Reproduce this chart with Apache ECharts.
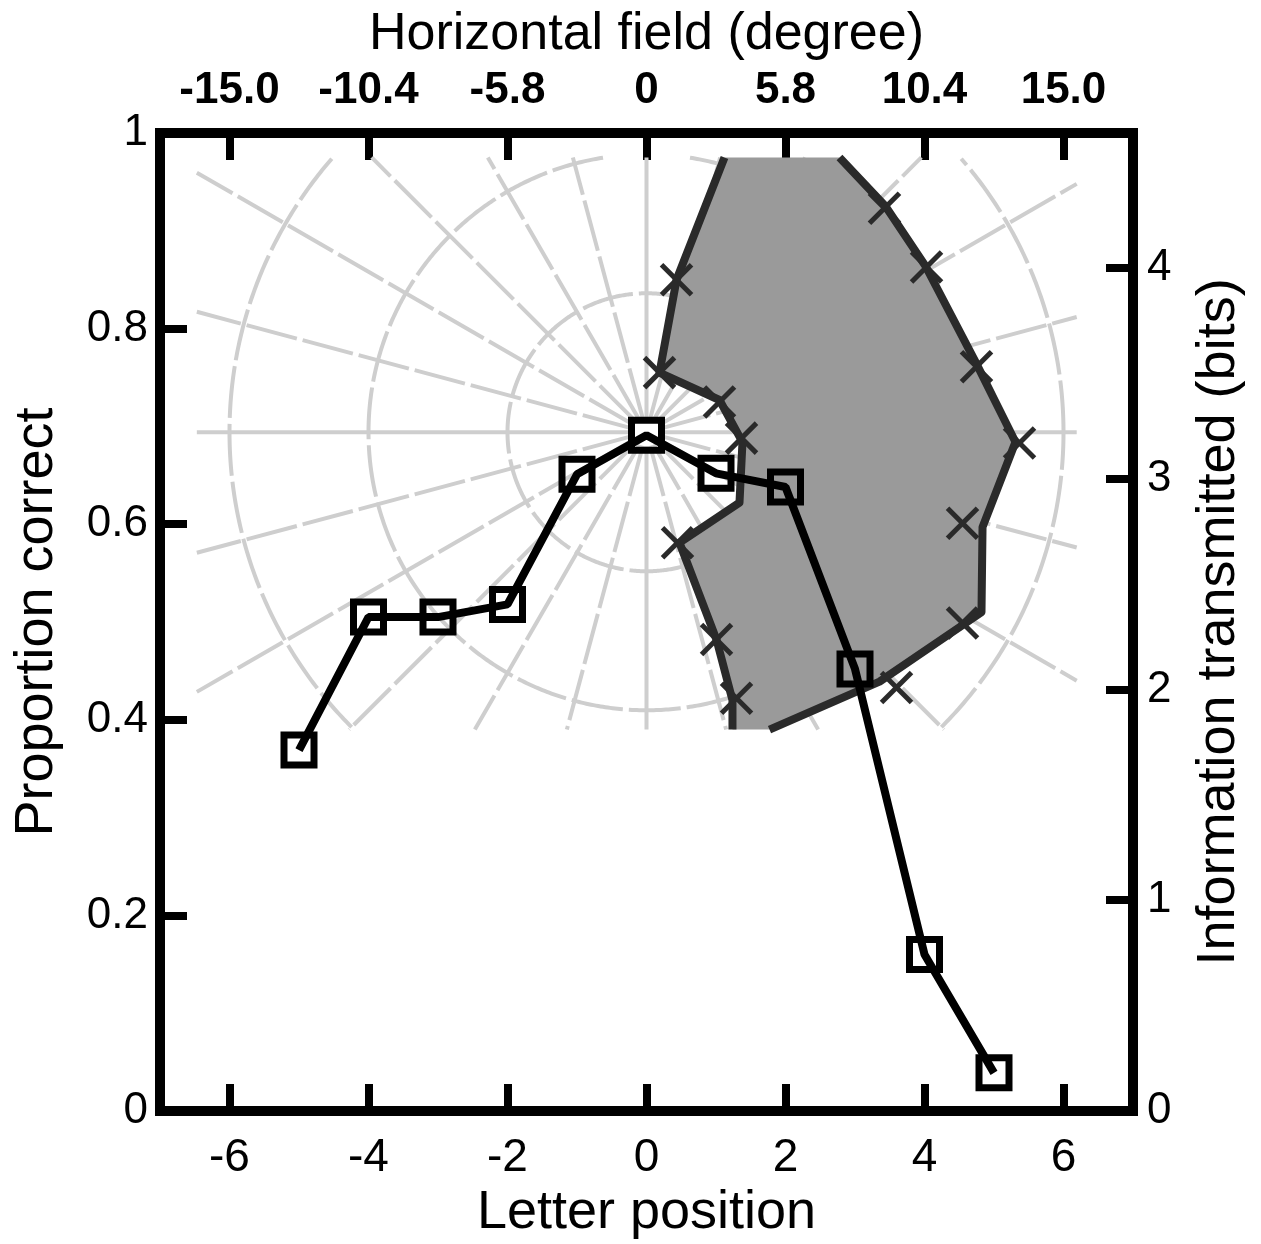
<!DOCTYPE html>
<html>
<head>
<meta charset="utf-8">
<title>Letter position</title>
<script src="https://cdn.jsdelivr.net/npm/echarts@6/dist/echarts.min.js"></script>
<style>
  html, body { margin: 0; padding: 0; background: #fff; }
  #chart { width: 1261px; height: 1244px; }
</style>
</head>
<body>
<div id="chart"></div>
<script>
  // proportion correct per letter position
  var letterPos = [-5, -4, -3, -2, -1, 0, 1, 2, 3, 4, 5]
  var propCorrect = [0.369, 0.505, 0.505, 0.518, 0.651, 0.691, 0.652, 0.638, 0.452, 0.160, 0.039]

  // ticks
  var xTicks = [-6, -4, -2, 0, 2, 4, 6]
  var fieldLabels = ['-15.0', '-10.4', '-5.8', '0', '5.8', '10.4', '15.0']
  var bitTicks = [0, 1, 2, 3, 4]

  // shaded field region (letter position / proportion units)
  var areaX = [2.777, 3.439, 4.014, 4.734, 5.309, 4.835, 4.820, 3.353, 1.770, 1.237, 1.237, 1.007, 0.475, 1.338, 1.381, 1.050, 0.187, 0.432, 1.122]
  var areaY = [0.975, 0.925, 0.864, 0.766, 0.684, 0.597, 0.510, 0.439, 0.390, 0.390, 0.420, 0.482, 0.581, 0.622, 0.684, 0.727, 0.755, 0.850, 0.975]
  // x marks on the region border
  var markX = [0.432, 0.187, 1.050, 1.367, 0.446, 1.007, 1.295, 3.424, 4.029, 4.748, 5.367, 4.547, 4.547, 3.597]
  var markY = [0.850, 0.755, 0.725, 0.688, 0.581, 0.482, 0.422, 0.923, 0.863, 0.761, 0.683, 0.601, 0.499, 0.433]

  // polar field map behind the data
  var mapCenter = [0, 0.694]
  var mapRings = [2, 4, 6]
  var mapSpokeStep = 15
  var mapBoxX = [-6.47, 6.19]
  var mapBoxY = [0.39, 0.975]

  var FONT = '"Liberation Sans", Arial, Helvetica, sans-serif'

  function mapStyle(solid) {
    return { stroke: '#cecece', lineWidth: 4, fill: null, lineDash: solid ? null : [52, 6] }
  }

  function renderMap(params, api) {
    var c = api.coord(mapCenter)
    var p0 = api.coord([mapBoxX[0], mapBoxY[1]])
    var p1 = api.coord([mapBoxX[1], mapBoxY[0]])
    var unit = api.size([1, 0])[0]
    var kids = []
    var inBox = function (x, y) {
      return x >= p0[0] && x <= p1[0] && y >= p0[1] && y <= p1[1]
    }
    mapRings.forEach(function (r) {
      var R = r * unit
      var run = []
      for (var a = 0; a <= 360; a += 0.5) {
        var t = a * Math.PI / 180
        var x = c[0] + R * Math.cos(t)
        var y = c[1] - R * Math.sin(t)
        if (inBox(x, y)) {
          run.push([x, y])
        } else {
          if (run.length > 1) kids.push({ type: 'polyline', shape: { points: run }, style: mapStyle(false) })
          run = []
        }
      }
      if (run.length > 1) kids.push({ type: 'polyline', shape: { points: run }, style: mapStyle(false) })
    })
    for (var a = 0; a < 360; a += mapSpokeStep) {
      var t = a * Math.PI / 180
      var dx = Math.cos(t)
      var dy = -Math.sin(t)
      var tx = dx > 1e-9 ? (p1[0] - c[0]) / dx : (dx < -1e-9 ? (p0[0] - c[0]) / dx : Infinity)
      var ty = dy > 1e-9 ? (p1[1] - c[1]) / dy : (dy < -1e-9 ? (p0[1] - c[1]) / dy : Infinity)
      var len = Math.min(tx, ty)
      kids.push({
        type: 'line',
        shape: { x1: c[0] + dx * 14, y1: c[1] + dy * 14, x2: c[0] + dx * len, y2: c[1] + dy * len },
        style: mapStyle(a % 90 === 0)
      })
    }
    return { type: 'group', children: kids }
  }

  function renderArea(params, api) {
    var pts = areaX.map(function (x, i) { return api.coord([x, areaY[i]]) })
    var kids = [{ type: 'polygon', shape: { points: pts }, style: { fill: '#9a9a9a', stroke: null } }]
    // outline, skipping the edges cut by the map border
    var onEdge = function (i) { return areaY[i] === mapBoxY[0] || areaY[i] === mapBoxY[1] }
    var edgeStyle = function () { return { stroke: '#2a2a2a', lineWidth: 8, fill: null, lineJoin: 'round' } }
    var run = [pts[0]]
    for (var i = 1; i < pts.length; i++) {
      if (onEdge(i) && onEdge(i - 1)) {
        if (run.length > 1) kids.push({ type: 'polyline', shape: { points: run }, style: edgeStyle() })
        run = [pts[i]]
      } else {
        run.push(pts[i])
      }
    }
    if (run.length > 1) kids.push({ type: 'polyline', shape: { points: run }, style: edgeStyle() })
    return { type: 'group', children: kids }
  }

  function renderMark(params, api) {
    var p = api.coord([api.value(0), api.value(1)])
    var s = 15
    return {
      type: 'group',
      children: [
        { type: 'line', shape: { x1: p[0] - s, y1: p[1] - s, x2: p[0] + s, y2: p[1] + s }, style: { stroke: '#2a2a2a', lineWidth: 5 } },
        { type: 'line', shape: { x1: p[0] - s, y1: p[1] + s, x2: p[0] + s, y2: p[1] - s }, style: { stroke: '#2a2a2a', lineWidth: 5 } }
      ]
    }
  }

  var axisLine = { show: true, onZero: false, lineStyle: { color: '#000', width: 10, cap: 'square' } }

  var chart = echarts.init(document.getElementById('chart'), null, { renderer: 'canvas' })
  chart.setOption({
    backgroundColor: '#fff',
    animation: false,
    grid: { left: 160, right: 128, top: 133, bottom: 133, containLabel: false, outerBoundsMode: 'none' },
    xAxis: [{
      type: 'value',
      position: 'bottom',
      min: -7,
      max: 7,
      name: 'Letter position',
      nameLocation: 'middle',
      nameGap: 72,
      nameTextStyle: { fontFamily: FONT, fontSize: 54, color: '#000' },
      axisLine: axisLine,
      axisTick: { show: true, inside: true, length: 27, customValues: xTicks, lineStyle: { color: '#000', width: 8 } },
      axisLabel: { customValues: xTicks, margin: 24, fontFamily: FONT, fontSize: 46, color: '#000' },
      splitLine: { show: false }
    }, {
      type: 'value',
      position: 'top',
      min: -7,
      max: 7,
      name: 'Horizontal field (degree)',
      nameLocation: 'middle',
      nameGap: 72,
      nameTextStyle: { fontFamily: FONT, fontSize: 52, color: '#000' },
      axisLine: axisLine,
      axisTick: { show: true, inside: true, length: 27, customValues: xTicks, lineStyle: { color: '#000', width: 8 } },
      axisLabel: {
        customValues: xTicks,
        margin: 20,
        fontFamily: FONT,
        fontSize: 44,
        fontWeight: 'bold',
        color: '#000',
        formatter: function (v) { return fieldLabels[xTicks.indexOf(v)] }
      },
      splitLine: { show: false }
    }],
    yAxis: [{
      type: 'value',
      position: 'left',
      min: 0,
      max: 1,
      interval: 0.2,
      name: 'Proportion correct',
      nameLocation: 'middle',
      nameRotate: 90,
      nameGap: 96,
      nameTextStyle: { fontFamily: FONT, fontSize: 54, color: '#000' },
      axisLine: axisLine,
      axisTick: { show: true, inside: true, length: 27, lineStyle: { color: '#000', width: 8 } },
      axisLabel: { margin: 12, fontFamily: FONT, fontSize: 44, color: '#000' },
      splitLine: { show: false }
    }, {
      type: 'value',
      position: 'right',
      min: 0,
      max: 4.64,
      name: 'Information transmitted (bits)',
      nameLocation: 'middle',
      nameRotate: 90,
      nameGap: 59,
      nameTextStyle: { fontFamily: FONT, fontSize: 54, color: '#000' },
      axisLine: axisLine,
      axisTick: { show: true, inside: true, length: 27, customValues: bitTicks, lineStyle: { color: '#000', width: 8 } },
      axisLabel: { customValues: bitTicks, margin: 14, fontFamily: FONT, fontSize: 44, color: '#000' },
      splitLine: { show: false }
    }],
    series: [{
      type: 'custom',
      name: 'map',
      silent: true,
      z: 1,
      xAxisIndex: 0,
      yAxisIndex: 0,
      renderItem: renderMap,
      data: [mapCenter]
    }, {
      type: 'custom',
      name: 'field',
      silent: true,
      z: 2,
      xAxisIndex: 0,
      yAxisIndex: 0,
      renderItem: renderArea,
      data: [[areaX[0], areaY[0]]]
    }, {
      type: 'custom',
      name: 'marks',
      silent: true,
      z: 3,
      xAxisIndex: 0,
      yAxisIndex: 0,
      renderItem: renderMark,
      data: markX.map(function (x, i) { return [x, markY[i]] })
    }, {
      type: 'line',
      name: 'Proportion correct',
      z: 10,
      xAxisIndex: 0,
      yAxisIndex: 0,
      data: letterPos.map(function (x, i) { return [x, propCorrect[i]] }),
      symbol: 'rect',
      symbolSize: 30,
      lineStyle: { color: '#000', width: 8 },
      itemStyle: { color: 'rgba(0,0,0,0)', borderColor: '#000', borderWidth: 7 }
    }]
  })
</script>
</body>
</html>
